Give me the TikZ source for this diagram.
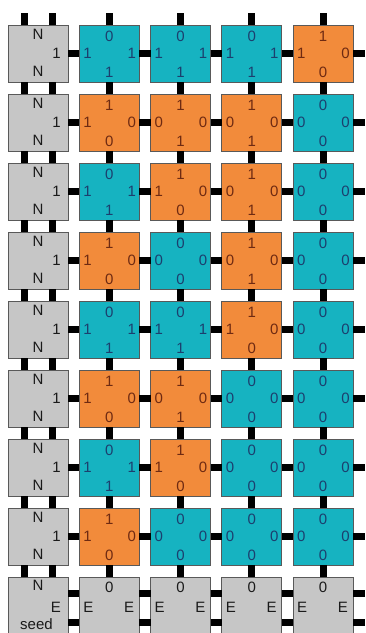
\documentclass[tikz,border=0pt]{standalone}
\usepackage{fontspec}
\setmainfont{Liberation Sans}
\usepackage{tikz}
\usetikzlibrary{positioning}
\definecolor{cyfill}{HTML}{16B3C1}
\definecolor{orfill}{HTML}{F28B3B}
\definecolor{gyfill}{HTML}{C6C6C6}
\definecolor{cytxt}{HTML}{1C3F6E}
\definecolor{ortxt}{HTML}{6E2A12}
\definecolor{gytxt}{HTML}{1A1A1A}

\begin{document}
\begin{tikzpicture}[x=1pt,y=1pt,node distance=12pt and 11.25pt, lab/.style={font=\fontsize{15}{17}\selectfont,inner sep=0pt},
box/.style={draw=black!65,line width=.7pt,minimum width=60pt,minimum height=57pt,inner sep=0pt,outer sep=0pt},
tile/.style n args={5}{box,label={[lab,text=#5,anchor=north,yshift=-6pt]north:#1},label={[lab,text=#5,anchor=west,xshift=4pt]west:#2},label={[lab,text=#5,anchor=east,xshift=-3pt]east:#3},label={[lab,text=#5,anchor=south,yshift=4pt]south:#4}},
cyt/.style n args={4}{tile={#1}{#2}{#3}{#4}{cytxt},fill=cyfill}, ort/.style n args={4}{tile={#1}{#2}{#3}{#4}{ortxt},fill=orfill},
gyt/.style={box,fill=gyfill,label={[lab,text=gytxt,anchor=north,yshift=-3.5pt]north:N},label={[lab,text=gytxt,anchor=east,xshift=-7pt]east:1},label={[lab,text=gytxt,anchor=south,yshift=5pt]south:N}},
bot/.style={box,fill=gyfill,label={[lab,text=gytxt,anchor=north,yshift=-4.5pt]north:0},label={[lab,text=gytxt,anchor=west,xshift=4pt,yshift=-1.5pt]west:E},label={[lab,text=gytxt,anchor=east,xshift=-5pt,yshift=-1.5pt]east:E}},
bond/.style={line width=7pt}]
\useasboundingbox (0,0) rectangle (365,-633);
\node (r0-0) [gyt] at (38,-53.5) {}; \node (r0-1) [right=of r0-0,cyt={0}{1}{1}{1}] {}; \node (r0-2) [right=of r0-1,cyt={0}{1}{1}{1}] {}; \node (r0-3) [right=of r0-2,cyt={0}{1}{1}{1}] {}; \node (r0-4) [right=of r0-3,ort={1}{1}{0}{0}] {};
\node (r1-0) [below=of r0-0,gyt] {}; \node (r1-1) [right=of r1-0,ort={1}{1}{0}{0}] {}; \node (r1-2) [right=of r1-1,ort={1}{0}{0}{1}] {}; \node (r1-3) [right=of r1-2,ort={1}{0}{0}{1}] {}; \node (r1-4) [right=of r1-3,cyt={0}{0}{0}{0}] {};
\node (r2-0) [below=of r1-0,gyt] {}; \node (r2-1) [right=of r2-0,cyt={0}{1}{1}{1}] {}; \node (r2-2) [right=of r2-1,ort={1}{1}{0}{0}] {}; \node (r2-3) [right=of r2-2,ort={1}{0}{0}{1}] {}; \node (r2-4) [right=of r2-3,cyt={0}{0}{0}{0}] {};
\node (r3-0) [below=of r2-0,gyt] {}; \node (r3-1) [right=of r3-0,ort={1}{1}{0}{0}] {}; \node (r3-2) [right=of r3-1,cyt={0}{0}{0}{0}] {}; \node (r3-3) [right=of r3-2,ort={1}{0}{0}{1}] {}; \node (r3-4) [right=of r3-3,cyt={0}{0}{0}{0}] {};
\node (r4-0) [below=of r3-0,gyt] {}; \node (r4-1) [right=of r4-0,cyt={0}{1}{1}{1}] {}; \node (r4-2) [right=of r4-1,cyt={0}{1}{1}{1}] {}; \node (r4-3) [right=of r4-2,ort={1}{1}{0}{0}] {}; \node (r4-4) [right=of r4-3,cyt={0}{0}{0}{0}] {};
\node (r5-0) [below=of r4-0,gyt] {}; \node (r5-1) [right=of r5-0,ort={1}{1}{0}{0}] {}; \node (r5-2) [right=of r5-1,ort={1}{0}{0}{1}] {}; \node (r5-3) [right=of r5-2,cyt={0}{0}{0}{0}] {}; \node (r5-4) [right=of r5-3,cyt={0}{0}{0}{0}] {};
\node (r6-0) [below=of r5-0,gyt] {}; \node (r6-1) [right=of r6-0,cyt={0}{1}{1}{1}] {}; \node (r6-2) [right=of r6-1,ort={1}{1}{0}{0}] {}; \node (r6-3) [right=of r6-2,cyt={0}{0}{0}{0}] {}; \node (r6-4) [right=of r6-3,cyt={0}{0}{0}{0}] {};
\node (r7-0) [below=of r6-0,gyt] {}; \node (r7-1) [right=of r7-0,ort={1}{1}{0}{0}] {}; \node (r7-2) [right=of r7-1,cyt={0}{0}{0}{0}] {}; \node (r7-3) [right=of r7-2,cyt={0}{0}{0}{0}] {}; \node (r7-4) [right=of r7-3,cyt={0}{0}{0}{0}] {};
\node (r8-0) [below=of r7-0,box,fill=gyfill,label={[lab,text=gytxt,anchor=north,yshift=-3pt]north:N},label={[lab,text=gytxt,anchor=east,xshift=-7pt,yshift=-1.5pt]east:E},label={[lab,text=gytxt,anchor=south,xshift=-1.5pt,yshift=4pt]south:seed}] {};
\node (r8-1) [right=of r8-0,bot] {}; \node (r8-2) [right=of r8-1,bot] {}; \node (r8-3) [right=of r8-2,bot] {}; \node (r8-4) [right=of r8-3,bot] {};
% bonds
\draw[bond] ([xshift=-14pt]r0-0.north) -- ++(0,12); \draw[bond] ([xshift=14pt]r0-0.north) -- ++(0,12);
\foreach \c in {1,...,4} \draw[bond] (r0-\c.north) -- ++(0,12);
\foreach \r in {0,...,7}{\pgfmathtruncatemacro\n{\r+1}
 \draw[bond] ([xshift=-14pt]r\r-0.south) -- ([xshift=-14pt]r\n-0.north); \draw[bond] ([xshift=14pt]r\r-0.south) -- ([xshift=14pt]r\n-0.north);
 \foreach \c in {1,...,4} \draw[bond] (r\r-\c.south) -- (r\n-\c.north);
 \foreach \c/\d in {0/1,1/2,2/3,3/4} \draw[bond] (r\r-\c.east) -- (r\r-\d.west);
 \draw[bond] (r\r-4.east) -- ++(12,0);}
\foreach \c/\d in {0/1,1/2,2/3,3/4}{\draw[bond] ([yshift=12pt]r8-\c.east) -- ([yshift=12pt]r8-\d.west); \draw[bond] ([yshift=-16.5pt]r8-\c.east) -- ([yshift=-16.5pt]r8-\d.west);}
\draw[bond] ([yshift=12pt]r8-4.east) -- ++(12,0); \draw[bond] ([yshift=-16.5pt]r8-4.east) -- ++(12,0);
\end{tikzpicture}
\end{document}
